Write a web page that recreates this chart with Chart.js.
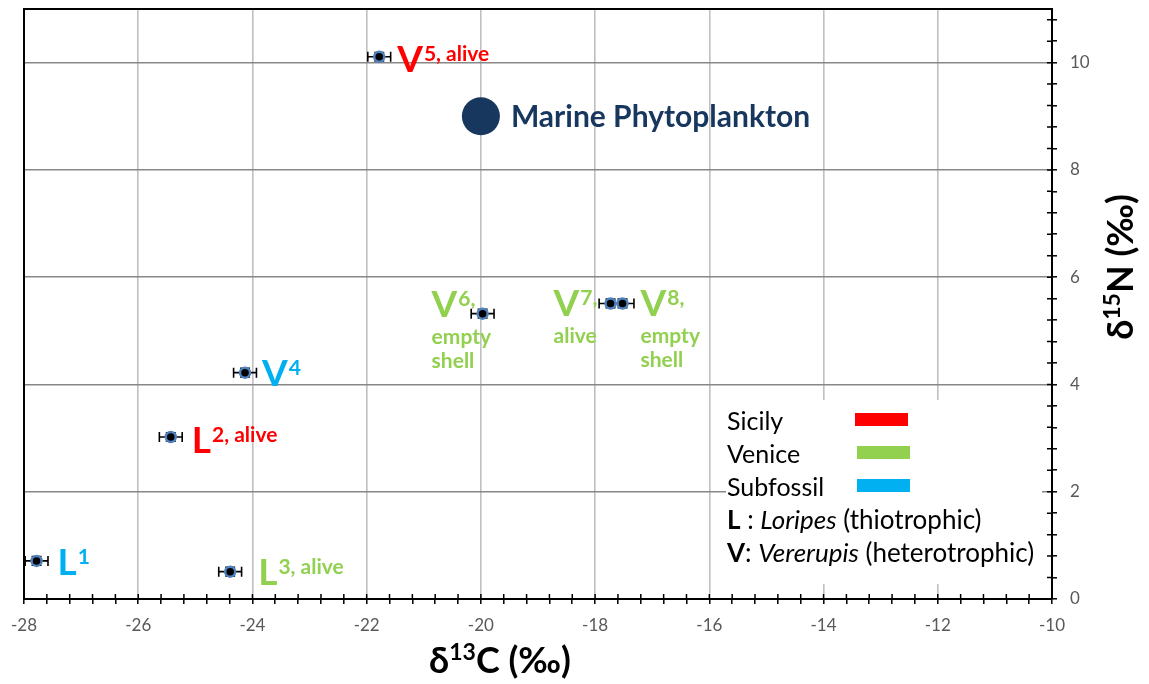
<!DOCTYPE html>
<html>
<head>
<meta charset="utf-8">
<script src="https://cdn.jsdelivr.net/npm/chart.js@4.4.1/dist/chart.umd.min.js"></script>
<style>
  html, body { margin: 0; padding: 0; background: #ffffff; }
  #wrap { width: 1149px; height: 684px; position: relative; }
  canvas { display: block; }
</style>
</head>
<body>
<div id="wrap"><canvas id="chart" width="1149" height="684"></canvas></div>
<script>
// Stable isotope values of the bivalve samples
const sampleGenus  = ['L', 'L', 'L', 'V', 'V', 'V', 'V', 'V'];
const sampleNote   = ['1', '2, alive', '3, alive', '4', '5, alive', '6,', '7,', '8,'];
const sampleLines  = [[], [], [], [], [], ['empty', 'shell'], ['alive'], ['empty', 'shell']];
const sampleOrigin = ['Subfossil', 'Sicily', 'Venice', 'Subfossil', 'Sicily', 'Venice', 'Venice', 'Venice'];
const d13C    = [-27.78, -25.43, -24.39, -24.13, -21.78, -19.97, -17.73, -17.52];
const d15N    = [0.71, 3.02, 0.51, 4.22, 10.11, 5.32, 5.51, 5.51];
const d13CErr = [0.2, 0.2, 0.2, 0.2, 0.2, 0.2, 0.2, 0.2];
const d15NErr = [0.08, 0.08, 0.08, 0.08, 0.08, 0.08, 0.08, 0.08];

// Reference end-member
const planktonName = ['Marine Phytoplankton'];
const plankton13C  = [-20];
const plankton15N  = [9];

// Axes
const xRange = [-28, -10];
const yRange = [0, 11];
const minorStep = 0.4;
const majorStep = 2;

// Legend
const legendNames = ['Sicily', 'Venice', 'Subfossil'];

// ---- styling ----
const originColor = { Sicily: '#ff0000', Venice: '#92d050', Subfossil: '#00b0f0' };
const navy = '#17375e';
const FONT = 'Lato, "Open Sans", sans-serif';
// label anchor relative to each marker: [dx, dy] to the baseline start of the big letter
const labelOffset = [[21, 14], [21, 16], [28, 13], [17, 13], [18, 15], [-51, 3], [-57, 13], [18, 13]];

function isMajor(v) {
  const r = v / majorStep;
  return Math.abs(r - Math.round(r)) < 1e-6;
}
function fmt(v) { return String(Math.round(v)); }

const frame = {
  id: 'frame',
  beforeDatasetsDraw(chart) {
    const { ctx, chartArea: a, scales } = chart;
    ctx.save();
    // black frame on left and top
    ctx.strokeStyle = '#000';
    ctx.lineWidth = 2;
    ctx.beginPath();
    ctx.moveTo(a.left, a.bottom);
    ctx.lineTo(a.left, a.top);
    ctx.lineTo(a.right, a.top);
    ctx.stroke();
    // inner halves of the crossing tick marks
    ctx.lineWidth = 1.5;
    ctx.beginPath();
    scales.x.ticks.forEach((t, i) => {
      const px = scales.x.getPixelForTick(i);
      ctx.moveTo(px, a.bottom);
      ctx.lineTo(px, a.bottom - 5);
    });
    scales.y.ticks.forEach((t, i) => {
      const py = scales.y.getPixelForTick(i);
      ctx.moveTo(a.right, py);
      ctx.lineTo(a.right - 5, py);
    });
    ctx.stroke();

    // legend panel background
    ctx.fillStyle = '#ffffff';
    ctx.fillRect(726, 400, 316, 184);

    // error bars
    ctx.strokeStyle = '#000';
    ctx.lineWidth = 1.6;
    ctx.beginPath();
    d13C.forEach((x, i) => {
      const y = d15N[i];
      const x0 = scales.x.getPixelForValue(x - d13CErr[i]);
      const x1 = scales.x.getPixelForValue(x + d13CErr[i]);
      const py = scales.y.getPixelForValue(y);
      ctx.moveTo(x0, py); ctx.lineTo(x1, py);
      ctx.moveTo(x0, py - 5); ctx.lineTo(x0, py + 5);
      ctx.moveTo(x1, py - 5); ctx.lineTo(x1, py + 5);
      const y0 = scales.y.getPixelForValue(y - d15NErr[i]);
      const y1 = scales.y.getPixelForValue(y + d15NErr[i]);
      const px = scales.x.getPixelForValue(x);
      ctx.moveTo(px, y0); ctx.lineTo(px, y1);
      ctx.moveTo(px - 5, y0); ctx.lineTo(px + 5, y0);
      ctx.moveTo(px - 5, y1); ctx.lineTo(px + 5, y1);
    });
    ctx.stroke();
    ctx.restore();
  },
  afterDatasetsDraw(chart) {
    const { ctx, scales } = chart;
    ctx.save();
    ctx.textBaseline = 'alphabetic';
    ctx.textAlign = 'left';
    // sample labels
    d13C.forEach((x, i) => {
      const px = scales.x.getPixelForValue(x);
      const py = scales.y.getPixelForValue(d15N[i]);
      const bx = px + labelOffset[i][0];
      const by = py + labelOffset[i][1];
      ctx.fillStyle = originColor[sampleOrigin[i]];
      ctx.font = 'bold 37px ' + FONT;
      ctx.fillText(sampleGenus[i], bx, by);
      const w = ctx.measureText(sampleGenus[i]).width;
      ctx.font = 'bold 21px ' + FONT;
      ctx.fillText(sampleNote[i], bx + w + 1, by - 11);
      sampleLines[i].forEach((t, k) => {
        ctx.fillText(t, bx, by + 27 + k * 24);
      });
    });
    // phytoplankton label
    const ppx = scales.x.getPixelForValue(plankton13C[0]);
    const ppy = scales.y.getPixelForValue(plankton15N[0]);
    ctx.fillStyle = navy;
    ctx.font = 'bold 30px ' + FONT;
    ctx.fillText(planktonName[0], ppx + 30, ppy + 11);

    // legend
    const rowY = [430, 463, 496];
    const barX = [855, 857, 857];
    ctx.font = '25px ' + FONT;
    legendNames.forEach((n, i) => {
      ctx.fillStyle = '#000';
      ctx.fillText(n, 727, rowY[i]);
      ctx.fillStyle = originColor[n];
      ctx.fillRect(barX[i], rowY[i] - 17, 53, 13);
    });
    let lx = 727;
    const rows = [
      [['bold', 'L'], ['', ' : '], ['italic', 'Loripes'], ['', ' (thiotrophic)']],
      [['bold', 'V'], ['', ': '], ['italic', 'Vererupis'], ['', ' (heterotrophic)']]
    ];
    rows.forEach((parts, r) => {
      lx = 727;
      const y = 529 + r * 33;
      parts.forEach(([st, t]) => {
        ctx.font = (st ? st + ' ' : '') + '26px ' + FONT;
        ctx.fillStyle = '#000';
        ctx.fillText(t, lx, y);
        lx += ctx.measureText(t).width;
      });
    });

    // axis titles
    function titleParts(sup, rest) {
      return [['bold 36px ', 'δ', 0], ['bold 23px ', sup, -13], ['bold 36px ', rest, 0]];
    }
    function drawParts(parts, cx, cy) {
      let total = 0;
      parts.forEach(([f, t]) => { ctx.font = f + FONT; total += ctx.measureText(t).width; });
      let x = cx - total / 2;
      parts.forEach(([f, t, dy]) => {
        ctx.font = f + FONT;
        ctx.fillText(t, x, cy + dy);
        x += ctx.measureText(t).width;
      });
    }
    ctx.fillStyle = '#000';
    drawParts(titleParts('13', 'C (‰)'), 500, 673);
    ctx.save();
    ctx.translate(1133, 267);
    ctx.rotate(-Math.PI / 2);
    drawParts(titleParts('15', 'N (‰)'), 0, 0);
    ctx.restore();
    ctx.restore();
  }
};

const samplePoints = d13C.map((x, i) => ({ x, y: d15N[i] }));
const planktonPoints = plankton13C.map((x, i) => ({ x, y: plankton15N[i] }));

new Chart(document.getElementById('chart'), {
  type: 'scatter',
  data: {
    datasets: [
      {
        label: 'Samples',
        data: samplePoints,
        pointStyle: 'circle',
        pointRadius: 5,
        pointHoverRadius: 5,
        backgroundColor: '#000000',
        borderColor: '#4f81bd',
        borderWidth: 2.5
      },
      {
        label: planktonName[0],
        data: planktonPoints,
        pointStyle: 'circle',
        pointRadius: 19,
        pointHoverRadius: 19,
        backgroundColor: navy,
        borderColor: navy,
        borderWidth: 0
      }
    ]
  },
  options: {
    responsive: false,
    animation: false,
    devicePixelRatio: 1,
    layout: { autoPadding: false, padding: { left: 24, top: 9, right: 0, bottom: 0 } },
    plugins: { legend: { display: false }, tooltip: { enabled: false } },
    scales: {
      x: {
        type: 'linear',
        position: 'bottom',
        min: xRange[0],
        max: xRange[1],
        afterFit: (s) => { s.height = 85; s.paddingLeft = 0; s.paddingRight = 0; },
        border: { display: true, color: '#000', width: 2 },
        grid: {
          drawOnChartArea: true,
          drawTicks: true,
          tickLength: 5,
          tickWidth: 1.5,
          tickColor: '#000',
          lineWidth: 1.6,
          color: (c) => (c.tick && isMajor(c.tick.value) && c.tick.value > xRange[0] && c.tick.value < xRange[1]) ? '#c0c0c0' : 'rgba(0,0,0,0)'
        },
        ticks: {
          stepSize: minorStep,
          autoSkip: false,
          maxRotation: 0,
          padding: 11,
          color: '#595959',
          font: { family: FONT, size: 17 },
          callback: (v) => isMajor(v) ? fmt(v) : ''
        }
      },
      y: {
        type: 'linear',
        position: 'right',
        min: yRange[0],
        max: yRange[1],
        afterFit: (s) => { s.width = 97; s.paddingTop = 0; s.paddingBottom = 0; },
        border: { display: true, color: '#000', width: 2 },
        grid: {
          drawOnChartArea: true,
          drawTicks: true,
          tickLength: 5,
          tickWidth: 1.5,
          tickColor: '#000',
          lineWidth: 1.6,
          color: (c) => (c.tick && isMajor(c.tick.value) && c.tick.value > yRange[0]) ? '#878787' : 'rgba(0,0,0,0)'
        },
        ticks: {
          stepSize: minorStep,
          includeBounds: false,
          autoSkip: false,
          padding: 13,
          color: '#595959',
          font: { family: FONT, size: 17 },
          callback: (v) => isMajor(v) ? fmt(v) : ''
        }
      }
    }
  },
  plugins: [frame]
});
</script>
</body>
</html>
